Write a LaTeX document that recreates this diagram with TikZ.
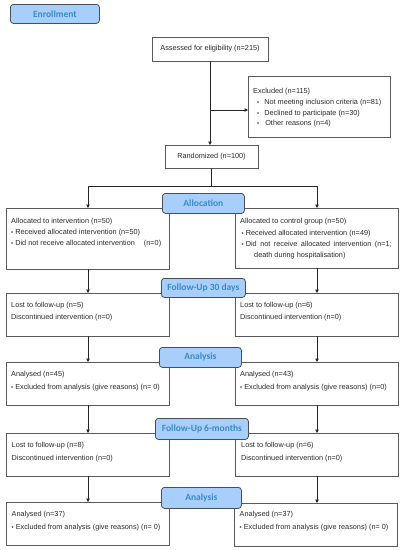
\documentclass[tikz,border=0pt]{standalone}
\usepackage{fontspec}
\setmainfont{Liberation Sans}
\newfontfamily\hdrfont{Carlito}
\usetikzlibrary{arrows.meta}
\definecolor{hdrfill}{HTML}{A8CFFB}
\definecolor{hdrtext}{HTML}{3A8AC8}
\definecolor{hdrline}{HTML}{4A4F57}
\definecolor{boxline}{HTML}{5A5A5A}
\definecolor{txt}{HTML}{2A2A2A}
\newcommand{\bul}{{\fontsize{6}{6}\selectfont\textbullet}}
\begin{document}
\begin{tikzpicture}[x=1pt,y=-1pt,
 box/.style={draw=boxline,line width=0.8pt,fill=white,inner sep=0pt,outer sep=0pt,anchor=north west},
 hdr/.style={draw=hdrline,line width=0.8pt,fill=hdrfill,rounded corners=3pt,text=hdrtext,
   font=\hdrfont\bfseries\fontsize{9.5}{10}\selectfont,inner sep=0pt,anchor=north west},
 txtnode/.style={anchor=north west,inner sep=0pt,align=left,text=txt},
 conn/.style={draw=black!85,line width=0.8pt},
 arr/.style={conn,-{Triangle[length=3.5pt,width=3.5pt]}}]
\useasboundingbox (0,0) rectangle (403,550);

% boxes
\node[box,minimum width=116pt,minimum height=24pt,anchor=north west,
  font=\fontsize{7.3}{9}\selectfont,text=txt] (assess) at (152,37) {Assessed for eligibility (n=215)};
\node[box,minimum width=142pt,minimum height=61pt] (excl) at (248,76) {};
\node[box,minimum width=93pt,minimum height=23pt,
  font=\fontsize{7.3}{9}\selectfont,text=txt] (rand) at (165,145) {Randomized (n=100)};
\node[box,minimum width=163pt,minimum height=61pt] (allocL) at (6,208) {};
\node[box,minimum width=163pt,minimum height=60pt] (allocR) at (235,208) {};
\node[box,minimum width=163pt,minimum height=43pt] (fuL) at (6,293) {};
\node[box,minimum width=163pt,minimum height=43pt] (fuR) at (235,293) {};
\node[box,minimum width=163pt,minimum height=43pt] (anL) at (6,362) {};
\node[box,minimum width=163pt,minimum height=43pt] (anR) at (235,362) {};
\node[box,minimum width=163pt,minimum height=43pt] (fusL) at (6,433) {};
\node[box,minimum width=163pt,minimum height=43pt] (fusR) at (235,433) {};
\node[box,minimum width=163pt,minimum height=43pt] (ansL) at (6,502) {};
\node[box,minimum width=163pt,minimum height=43pt] (ansR) at (234,503) {};

% texts
\node[txtnode,font=\fontsize{7.3}{10.7}\selectfont] (exclT) at (253,88.4)
 {Excluded (n=115)\\
  \hspace*{4pt}\bul\hspace{5pt}Not meeting inclusion criteria (n=81)\\
  \hspace*{4pt}\bul\hspace{5pt}Declined to participate (n=30)\\
  \hspace*{4pt}\bul\hspace{6pt}Other reasons (n=4)};
\node[txtnode,font=\fontsize{7.3}{11}\selectfont] (allocLT) at (11,218.4)
 {Allocated to intervention (n=50)\\
  \bul\hspace{2pt}Received allocated intervention (n=50)\\
  \bul\hspace{2pt}Did not receive allocated intervention\hspace{9pt}(n=0)};
\node[txtnode,font=\fontsize{7.3}{11.3}\selectfont] (allocRT) at (240,218.4)
 {Allocated to control group (n=50)\\
  \hspace*{1.5pt}\bul\hspace{2pt}Received allocated intervention (n=49)\\
  \hspace*{1.5pt}\bul\hspace{2pt}\makebox[146pt][s]{Did not receive allocated intervention (n=1;}\\
  \hspace*{14pt}death during hospitalisation)};
\node[txtnode,font=\fontsize{7.3}{12}\selectfont] (fuLT) at (11,302.4)
 {Lost to follow-up (n=5)\\Discontinued intervention (n=0)};
\node[txtnode,font=\fontsize{7.3}{12}\selectfont] (fuRT) at (240,302.4)
 {Lost to follow-up (n=6)\\Discontinued intervention (n=0)};
\node[txtnode,font=\fontsize{7.3}{13}\selectfont] (anLT) at (11,371.4)
 {Analysed (n=45)\\\bul\hspace{2pt}Excluded from analysis (give reasons) (n= 0)};
\node[txtnode,font=\fontsize{7.3}{13}\selectfont] (anRT) at (240,371.4)
 {Analysed (n=43)\\\bul\hspace{2pt}Excluded from analysis (give reasons) (n=0)};
\node[txtnode,font=\fontsize{7.3}{13}\selectfont] (fusLT) at (11.5,442.4)
 {Lost to follow-up (n=8)\\Discontinued intervention (n=0)};
\node[txtnode,font=\fontsize{7.3}{13}\selectfont] (fusRT) at (241,442.4)
 {Lost to follow-up (n=6)\\Discontinued intervention (n=0)};
\node[txtnode,font=\fontsize{7.3}{13}\selectfont] (ansLT) at (11.5,511.4)
 {Analysed (n=37)\\\bul\hspace{2pt}Excluded from analysis (give reasons) (n= 0)};
\node[txtnode,font=\fontsize{7.3}{13}\selectfont] (ansRT) at (239.5,511.4)
 {Analysed (n=37)\\\bul\hspace{2pt}Excluded from analysis (give reasons) (n= 0)};

% connectors
\coordinate (exy) at (0,110);
\coordinate (brL) at (88,186);
\coordinate (brR) at (317,186);
\coordinate (colL) at (88,0);
\coordinate (colR) at (317,0);
\draw[arr] (assess.south) -- (assess.south |- rand.north);
\draw[arr] (assess.south |- exy) -- (excl.west |- exy);
\draw[conn] (rand.south) -- (rand.south |- brL);
\draw[arr] (rand.south |- brL) -- (brL) -- (brL |- allocL.north);
\draw[arr] (rand.south |- brR) -- (brR) -- (brR |- allocR.north);
\draw[arr] (colL |- allocL.south) -- (colL |- fuL.north);
\draw[arr] (colR |- allocR.south) -- (colR |- fuR.north);
\draw[arr] (colL |- fuL.south) -- (colL |- anL.north);
\draw[arr] (colR |- fuR.south) -- (colR |- anR.north);
\draw[arr] (colL |- anL.south) -- (colL |- fusL.north);
\draw[arr] (colR |- anR.south) -- (colR |- fusR.north);
\draw[arr] (colL |- fusL.south) -- (colL |- ansL.north);
\draw[arr] (colR |- fusR.south) -- (colR |- ansR.north);

% headers
\node[hdr,minimum width=89pt,minimum height=19pt] (enroll) at (10,4) {Enrollment};
\node[hdr,minimum width=82pt,minimum height=20pt] (allocH) at (162,193) {Allocation};
\node[hdr,minimum width=84pt,minimum height=19pt] (fuH) at (161,278) {Follow-Up 30 days};
\node[hdr,minimum width=82pt,minimum height=20pt] (anH) at (159,347) {Analysis};
\node[hdr,minimum width=93pt,minimum height=21pt] (fusH) at (155,418) {Follow-Up 6-months};
\node[hdr,minimum width=80pt,minimum height=21pt] (ansH) at (161,487) {Analysis};
\end{tikzpicture}
\end{document}
